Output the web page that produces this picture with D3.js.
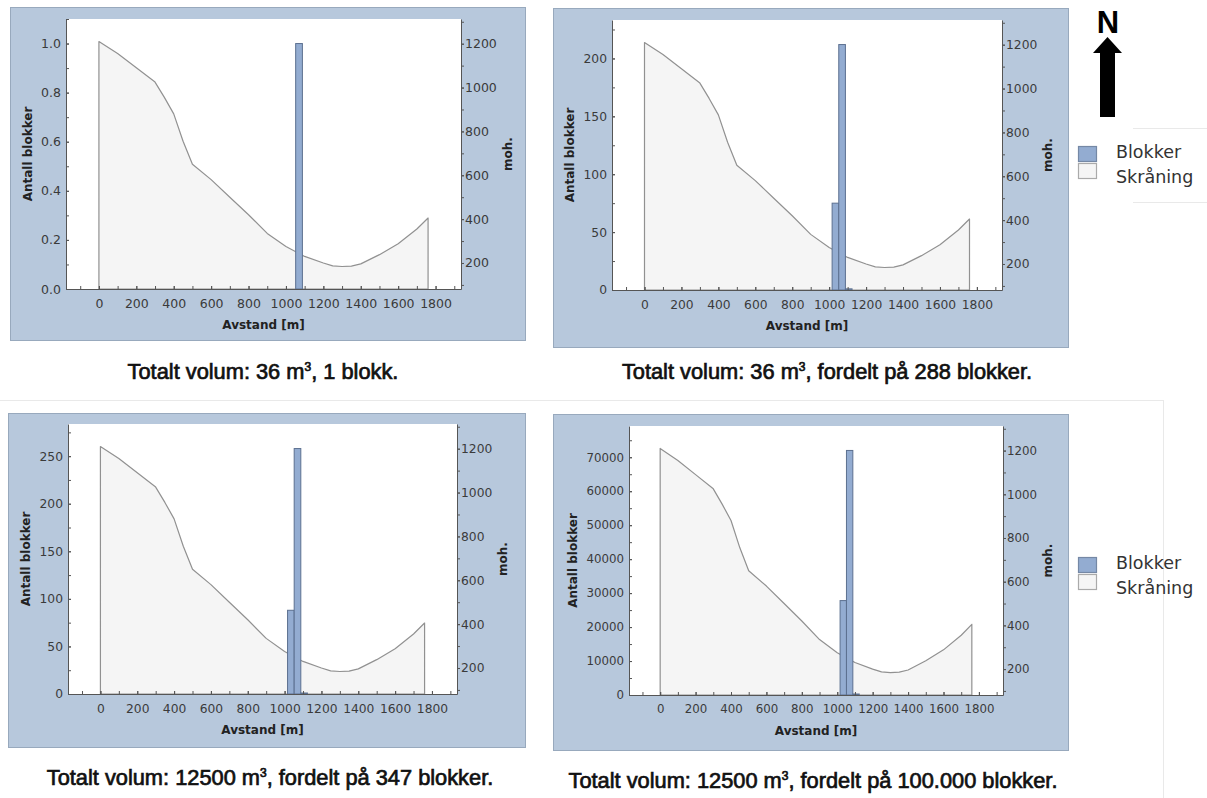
<!DOCTYPE html>
<html>
<head>
<meta charset="utf-8">
<script src="https://cdn.jsdelivr.net/npm/d3@7"></script>
<style>
  html, body { margin: 0; background: #fff; }
  svg { display: block; }
</style>
</head>
<body>
<svg id="fig" width="1207" height="798"></svg>
<script>
// Terrain profile along the fall line (distance in m, elevation in m a.s.l.)
const distance  = [0, 100, 200, 300, 350, 400, 450, 500, 600, 700, 800, 900, 1000, 1100, 1200, 1250, 1300, 1350, 1400, 1500, 1600, 1700, 1760];
const elevation = [1210, 1155, 1090, 1025, 955, 880, 755, 650, 580, 500, 420, 335, 275, 230, 200, 187, 184, 186, 196, 238, 288, 355, 405];

// Run-out bins: start of each bin along the profile, and bin width (m)
const binStart = [1016, 1052, 1088];
const binWidth = 36;

// Blocks stopping in each bin, one series per scenario
const blocksA = [0, 1, 0];
const blocksB = [75, 212, 1];
const blocksC = [88, 258, 1];
const blocksD = [27800, 72000, 200];

// Tick labels
const countTicksA = [0, 0.2, 0.4, 0.6, 0.8, 1.0];
const countTicksB = [0, 50, 100, 150, 200];
const countTicksC = [0, 50, 100, 150, 200, 250];
const countTicksD = [0, 10000, 20000, 30000, 40000, 50000, 60000, 70000];
const distTicks = [0, 200, 400, 600, 800, 1000, 1200, 1400, 1600, 1800];
const elevTicks = [200, 400, 600, 800, 1000, 1200];

// Captions under each chart: text before and after the cubic-metre superscript
const captionHead = ["Totalt volum: 36 m", "Totalt volum: 36 m", "Totalt volum: 12500 m", "Totalt volum: 12500 m"];
const captionTail = [", 1 blokk.", ", fordelt på 288 blokker.", ", fordelt på 347 blokker.", ", fordelt på 100.000 blokker."];

// Legend entries
const legendLabels = ["Blokker", "Skråning"];

const COL = {
  panel: "#b7c8dc",
  panelEdge: "#98a9bd",
  axis: "#555",
  tick: "#3a3a3a",
  title: "#222",
  bar: "#93acd1",
  barEdge: "#5c7090",
  ground: "#f5f5f5",
  groundEdge: "#919191"
};

const svg = d3.select("#fig");

// Layout of the four chart panels
const layout = [
  { box: [10, 7, 515, 333],  plot: [66, 19, 461, 289],    counts: blocksA, ticks: countTicksA, minor: 0.1,  fmt: d3.format(".1f"), fs: 12.5, cap: [263, 372] },
  { box: [553, 8, 515, 339], plot: [612, 20, 1002, 290],  counts: blocksB, ticks: countTicksB, minor: 25,   fmt: d3.format("d"),   fs: 12.3, cap: [827, 372] },
  { box: [8, 413, 517, 334], plot: [68, 424, 457, 694],   counts: blocksC, ticks: countTicksC, minor: 25,   fmt: d3.format("d"),   fs: 12.3, cap: [270, 778] },
  { box: [553, 414, 515, 336], plot: [629, 426, 1003, 695], counts: blocksD, ticks: countTicksD, minor: 5000, fmt: d3.format("d"),  fs: 11.8, cap: [813, 781] }
];

const elevExt = d3.extent(elevation);
const elevPad = (elevExt[1] - elevExt[0]) * 0.1;
const distPad = d3.max(distance) * 0.1;

function styleAxis(g, fs) {
  g.select(".domain").attr("stroke", COL.axis).attr("stroke-width", 1);
  g.selectAll(".tick line").attr("stroke", COL.axis);
  g.selectAll(".tick text")
    .attr("fill", COL.tick)
    .attr("font-family", "DejaVu Sans, Verdana, sans-serif")
    .attr("font-size", fs);
}

layout.forEach((p, k) => {
  const [bx, by, bw, bh] = p.box;
  const [l, t, r, b] = p.plot;
  const g = svg.append("g");

  g.append("rect")
    .attr("x", bx + 0.5).attr("y", by + 0.5)
    .attr("width", bw).attr("height", bh)
    .attr("fill", COL.panel)
    .attr("stroke", COL.panelEdge).attr("stroke-width", 1);

  const x = d3.scaleLinear().domain([-distPad, d3.max(distance) + distPad]).range([l, r]);
  const yMax = d3.max(p.counts) * 1.1;
  const y = d3.scaleLinear().domain([0, yMax]).range([b, t]);
  const yE = d3.scaleLinear().domain([elevExt[0] - elevPad, elevExt[1] + elevPad]).range([b, t]);

  g.append("rect")
    .attr("x", l).attr("y", t).attr("width", r - l).attr("height", b - t)
    .attr("fill", "#fff");

  // Slope profile
  const area = d3.area()
    .x((d, i) => x(distance[i]))
    .y0(b)
    .y1((d, i) => yE(elevation[i]));
  g.append("path")
    .datum(distance)
    .attr("d", area)
    .attr("fill", COL.ground)
    .attr("stroke", COL.groundEdge)
    .attr("stroke-width", 1.2)
    .attr("stroke-linejoin", "round");

  // Block count histogram
  g.selectAll("rect.bar")
    .data(binStart.map((s, i) => ({ s, v: p.counts[i] })).filter(d => d.v > 0))
    .join("rect")
    .attr("class", "bar")
    .attr("x", d => x(d.s))
    .attr("width", d => x(d.s + binWidth) - x(d.s))
    .attr("y", d => Math.min(y(d.v), b - 1))
    .attr("height", d => Math.max(b - y(d.v), 1))
    .attr("fill", COL.bar)
    .attr("stroke", COL.barEdge)
    .attr("stroke-width", 1);

  // Left axis: counts
  const minorCount = d3.range(0, yMax + 1e-9, p.minor);
  g.append("g").attr("transform", `translate(${l},0)`)
    .call(d3.axisLeft(y).tickValues(minorCount).tickSize(-3).tickFormat(""))
    .call(a => { a.select(".domain").remove(); a.selectAll("line").attr("stroke", COL.axis); });
  const ga = g.append("g").attr("transform", `translate(${l},0)`)
    .call(d3.axisLeft(y).tickValues(p.ticks).tickSizeInner(-3).tickSizeOuter(0).tickPadding(5).tickFormat(p.fmt));
  styleAxis(ga, p.fs);

  // Bottom axis: distance
  const minorDist = d3.range(-100, x.domain()[1], 100);
  g.append("g").attr("transform", `translate(0,${b})`)
    .call(d3.axisBottom(x).tickValues(minorDist).tickSize(-3).tickFormat(""))
    .call(a => { a.select(".domain").remove(); a.selectAll("line").attr("stroke", COL.axis); });
  const gx = g.append("g").attr("transform", `translate(0,${b})`)
    .call(d3.axisBottom(x).tickValues(distTicks).tickSizeInner(-3).tickSizeOuter(0).tickPadding(10).tickFormat(d3.format("d")));
  styleAxis(gx, p.fs);

  // Right axis: elevation
  const minorElev = d3.range(100, yE.domain()[1], 100);
  g.append("g").attr("transform", `translate(${r},0)`)
    .call(d3.axisRight(yE).tickValues(minorElev).tickSize(3).tickFormat(""))
    .call(a => { a.select(".domain").remove(); a.selectAll("line").attr("stroke", COL.axis); });
  const gr = g.append("g").attr("transform", `translate(${r},0)`)
    .call(d3.axisRight(yE).tickValues(elevTicks).tickSizeInner(3).tickSizeOuter(0).tickPadding(1).tickFormat(d3.format("d")));
  styleAxis(gr, p.fs);

  const titleFont = "DejaVu Sans, Verdana, sans-serif";
  const midY = (t + b) / 2;
  const lb = ga.node().getBBox();
  g.append("text")
    .attr("transform", `translate(${l + lb.x - 13.5},${midY}) rotate(-90)`)
    .attr("text-anchor", "middle").attr("dominant-baseline", "central")
    .attr("font-family", titleFont).attr("font-weight", "bold").attr("font-size", 12)
    .attr("fill", COL.title)
    .text("Antall blokker");

  const rb = gr.node().getBBox();
  g.append("text")
    .attr("transform", `translate(${r + rb.x + rb.width + 11},${midY}) rotate(-90)`)
    .attr("text-anchor", "middle").attr("dominant-baseline", "central")
    .attr("font-family", titleFont).attr("font-weight", "bold").attr("font-size", 12)
    .attr("fill", COL.title)
    .text("moh.");

  g.append("text")
    .attr("x", (l + r) / 2).attr("y", b + 36)
    .attr("text-anchor", "middle").attr("dominant-baseline", "central")
    .attr("font-family", titleFont).attr("font-weight", "bold").attr("font-size", 12)
    .attr("fill", COL.title)
    .text("Avstand [m]");

  // Caption with superscript unit
  const cap = svg.append("text")
    .attr("x", p.cap[0]).attr("y", p.cap[1] + 7)
    .attr("text-anchor", "middle")
    .attr("font-family", "Liberation Sans, Arial, sans-serif")
    .attr("font-size", 21.8)
    .attr("fill", "#111").attr("stroke", "#111").attr("stroke-width", 0.7);
  cap.append("tspan").text(captionHead[k]);
  cap.append("tspan").attr("font-size", 12).attr("dy", -8).text("3");
  cap.append("tspan").attr("dy", 8).text(captionTail[k]);
});

// Faint frame lines around the lower half and the legends
const faint = "#e9e9e9";
svg.append("line").attr("x1", 0).attr("x2", 1163).attr("y1", 400.5).attr("y2", 400.5).attr("stroke", faint);
svg.append("line").attr("x1", 1163.5).attr("x2", 1163.5).attr("y1", 400).attr("y2", 798).attr("stroke", faint);
svg.append("line").attr("x1", 1133).attr("x2", 1207).attr("y1", 128.5).attr("y2", 128.5).attr("stroke", faint);
svg.append("line").attr("x1", 1133).attr("x2", 1207).attr("y1", 202.5).attr("y2", 202.5).attr("stroke", faint);

// Legends
function legend(y0) {
  const lg = svg.append("g").attr("transform", `translate(1078,${y0})`);
  const fills = [COL.bar, COL.ground];
  const edges = ["#7588a5", "#aaa"];
  legendLabels.forEach((lab, i) => {
    lg.append("rect")
      .attr("x", 0.5).attr("y", i * 17 + 0.5)
      .attr("width", 18).attr("height", 15)
      .attr("fill", fills[i]).attr("stroke", edges[i]).attr("stroke-width", 1.2);
    lg.append("text")
      .attr("x", 38).attr("y", i * 25 + 12)
      .attr("font-family", "DejaVu Sans, Verdana, sans-serif")
      .attr("font-size", 17.5)
      .attr("fill", "#333")
      .text(lab);
  });
}
legend(146);
legend(557);

// North arrow
const na = svg.append("g");
na.append("text")
  .attr("x", 1108).attr("y", 33)
  .attr("text-anchor", "middle")
  .attr("font-family", "Liberation Sans, Arial, sans-serif")
  .attr("font-weight", "bold").attr("font-size", 31)
  .attr("fill", "#000")
  .text("N");
na.append("path")
  .attr("d", "M1107.5,37 L1122,53 L1115,53 L1115,117 L1100,117 L1100,53 L1093,53 Z")
  .attr("fill", "#000");
</script>
</body>
</html>
